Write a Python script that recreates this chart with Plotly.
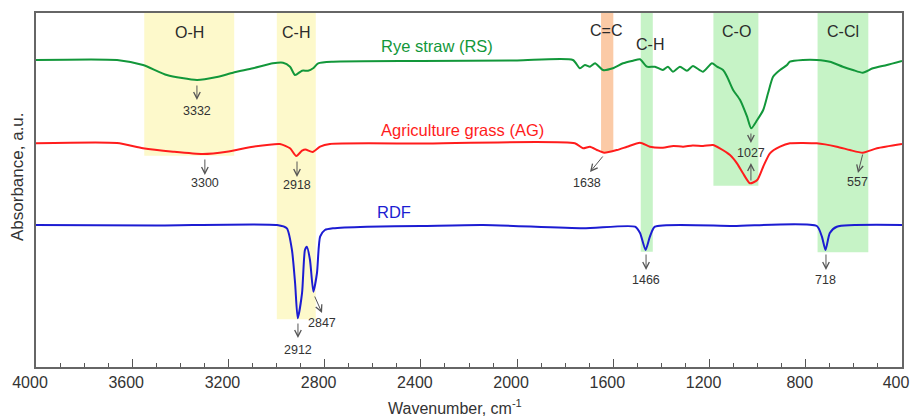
import plotly.graph_objects as go

# ---------------- data ----------------
rs_wn = [4000, 3663, 3555, 3456, 3331, 3248, 3181, 3098, 3015, 2973, 2944, 2923, 2894, 2869, 2848, 2827,
         2765, 2400, 2000, 1768, 1739, 1718, 1697, 1676, 1643, 1602, 1560, 1518, 1489, 1460, 1427, 1394,
         1373, 1352, 1323, 1294, 1269, 1227, 1190, 1169, 1144, 1127, 1102, 1073, 1044, 1027, 1002, 977,
         957, 936, 907, 878, 866, 812, 754, 700, 646, 604, 563, 521, 463, 400]
rs_val = [307, 307, 302, 292, 287, 290, 294.3, 298.7, 303.7, 304.3, 300.3, 292, 296.3, 296.3, 298.7, 303.7,
          305.3, 306, 306.5, 307, 298.7, 302, 300.3, 303.7, 297, 298.7, 303.7, 306.3, 307.7, 300.3, 300.3, 297,
          300.3, 295.3, 300.3, 296.3, 301, 295.3, 303.7, 300.3, 297, 290.3, 277, 267, 250.3, 238.7, 247, 257,
          273.7, 290.3, 297, 302, 305.3, 307, 307, 305.3, 300.3, 297, 294.3, 298.7, 302, 306]

ag_wn = [4000, 3663, 3555, 3430, 3306, 3207, 3098, 2986, 2944, 2918, 2894, 2880, 2850, 2819, 2778, 2400,
         1760, 1726, 1697, 1668, 1638, 1585, 1543, 1489, 1448, 1394, 1350, 1310, 1270, 1227, 1186, 1157,
         1115, 1086, 1061, 1032, 1002, 977, 949, 907, 866, 754, 671, 617, 563, 504, 400]
ag_val = [223.7, 224, 218.7, 215.3, 213, 215.3, 220.3, 223, 218.7, 211, 216.3, 217.5, 215, 220.3, 223, 223.5,
          223.7, 218.7, 220.3, 217, 214.3, 217, 220.3, 224.3, 220.3, 219.3, 221, 220.3, 221.5, 221, 222, 218.7,
          212, 203.7, 193.7, 183.7, 187, 200.3, 213.7, 220.3, 223.7, 223.7, 220.3, 217, 214.3, 218.7, 223]

rdf_wn = [4000, 3500, 2998, 2957, 2936, 2923, 2912, 2894, 2882, 2874, 2861, 2847, 2832, 2819, 2799, 2765,
          2624, 2400, 2142, 1726, 1510, 1489, 1466, 1448, 1427, 1100, 754, 733, 718, 700, 671, 400]
rdf_val = [142, 141.5, 142, 138.7, 117, 84, 48.7, 74, 117, 120.3, 107, 75.3, 94, 130.3, 137, 138.7,
           140.3, 141, 142, 138.7, 140.3, 134, 117, 130.3, 140.3, 141, 141, 130.3, 117, 134, 140.3, 142]

series_names = ["Rye straw (RS)", "Agriculture grass (AG)", "RDF"]
series_colors = ["#12973a", "#ff1c1c", "#1c1cd2"]
label_wn = [2333, 2225, 2512]
label_val = [321, 237, 155]

# band regions
band_names = ["O-H", "C-H", "C=C", "C-H", "C-O", "C-Cl"]
band_from = [3550, 2999, 1651, 1486, 1184, 751]
band_to = [3176, 2837, 1600, 1436, 997, 540]
band_bottom = [211.3, 47.7, 215, 115.3, 181.3, 114.7]
band_colors = ["#fdf9cb", "#fdf9cb", "#fbcaa6", "#c6f3c6", "#c6f3c6", "#c6f3c6"]
band_label_wn = [3360, 2919, 1631, 1448, 1086, 645]
band_label_val = [335, 335, 337, 323, 336, 336]

# peak marks: text, tail (wn, val), tip (wn, val), text position (wn, val)
peak_text = ["3332", "3300", "2918", "1638", "1027", "", "557", "2912", "2847", "1466", "718"]
peak_tail_wn = [3331, 3298, 2915, 1639, 1028, 1028, 562, 2911, 2844, 1464, 716]
peak_tail_val = [283, 209, 207, 212, 235, 185, 214, 45, 72, 114, 114]
peak_tip_wn = [3331, 3298, 2915, 1697, 1028, 1028, 583, 2911, 2811, 1464, 716]
peak_tip_val = [267, 192, 190, 195, 224, 204, 194, 29, 54, 97, 97]
peak_lab_wn = [3331, 3298, 2915, 1710, 1028, 1028, 587, 2911, 2811, 1464, 716]
peak_lab_val = [256, 184, 182, 184, 214, 214, 185, 17, 44, 87, 87]

x_ticks = [4000, 3600, 3200, 2800, 2400, 2000, 1600, 1200, 800, 400]
x_title = "Wavenumber, cm<sup>-1</sup>"
y_title = "Absorbance, a.u."

FONT = "Liberation Sans, Arial"

# ---------------- figure ----------------
fig = go.Figure()
for wn, val, name, col in zip([rs_wn, ag_wn, rdf_wn], [rs_val, ag_val, rdf_val], series_names, series_colors):
    fig.add_trace(go.Scatter(x=wn, y=val, mode="lines", name=name,
                             line=dict(color=col, width=2, shape="spline", smoothing=0.6),
                             showlegend=False, hoverinfo="skip"))

shapes = []
annotations = []
for i in range(len(band_names)):
    shapes.append(dict(type="rect", xref="x", yref="y", x0=band_from[i], x1=band_to[i],
                       y0=band_bottom[i], y1=354, fillcolor=band_colors[i], line=dict(width=0),
                       layer="below"))
    annotations.append(dict(x=band_label_wn[i], y=band_label_val[i], xref="x", yref="y",
                            text=band_names[i], showarrow=False,
                            font=dict(family=FONT, size=16, color="#2b2b2b")))

for name, col, lx, ly in zip(series_names, series_colors, label_wn, label_val):
    annotations.append(dict(x=lx, y=ly, xref="x", yref="y", text=name, showarrow=False,
                            font=dict(family=FONT, size=16.5, color=col)))

for i in range(len(peak_text)):
    annotations.append(dict(x=peak_tip_wn[i], y=peak_tip_val[i], ax=peak_tail_wn[i], ay=peak_tail_val[i],
                            xref="x", yref="y", axref="x", ayref="y", text="", showarrow=True,
                            arrowhead=5, arrowsize=1.3, arrowwidth=1, arrowcolor="#555555"))
    if peak_text[i]:
        annotations.append(dict(x=peak_lab_wn[i], y=peak_lab_val[i], xref="x", yref="y",
                                text=peak_text[i], showarrow=False,
                                font=dict(family=FONT, size=12.5, color="#333333")))

# axis titles (placed as paper-referenced text)
annotations.append(dict(x=(455 - 36) / 866, y=-40 / 354, xref="paper", yref="paper", text=x_title,
                        showarrow=False, xanchor="center", yanchor="middle",
                        font=dict(family=FONT, size=16, color="#333333")))
annotations.append(dict(x=-18 / 866, y=(367 - 177) / 354, xref="paper", yref="paper", text=y_title,
                        showarrow=False, textangle=-90, xanchor="center", yanchor="middle",
                        font=dict(family=FONT, size=17, color="#333333")))

fig.update_layout(
    width=912, height=419,
    margin=dict(l=36, r=10, t=13, b=52, autoexpand=False),
    paper_bgcolor="white", plot_bgcolor="white",
    shapes=shapes, annotations=annotations,
    font=dict(family=FONT, color="#333333"),
    xaxis=dict(range=[4000, 400], tickvals=x_ticks, ticktext=[str(t) for t in x_ticks],
               ticks="inside", ticklen=8, tickwidth=1.2, tickcolor="#555555",
               minor=dict(dtick=100, tick0=400, ticks="inside", ticklen=4, tickcolor="#555555", tickwidth=1.2),
               showline=True, linecolor="#666666", linewidth=1.5, mirror=True,
               showgrid=False, zeroline=False, automargin=False,
               ticklabeloverflow="allow", ticklabelshift=6,
               tickfont=dict(size=16, color="#333333")),
    yaxis=dict(range=[0, 354], showticklabels=False, ticks="",
               showline=True, linecolor="#666666", linewidth=1.5, mirror=True,
               showgrid=False, zeroline=False, automargin=False),
)

fig.write_html("out.html")
